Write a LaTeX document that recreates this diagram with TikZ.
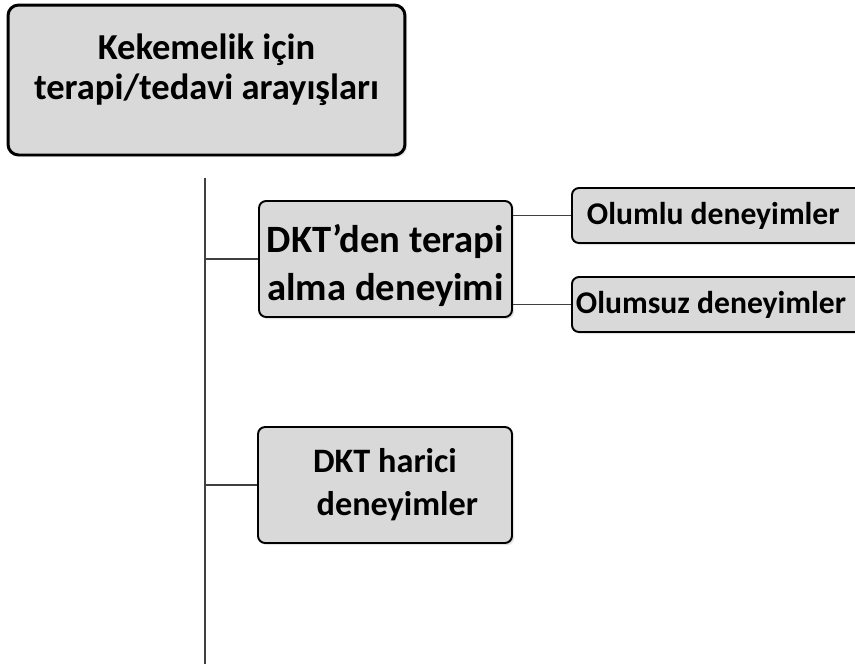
\documentclass[tikz,border=0pt]{standalone}
\usepackage{fontspec}
\setmainfont{Carlito}
\usetikzlibrary{shadows,calc}
\definecolor{boxgray}{RGB}{217,217,217}
\definecolor{linegray}{RGB}{64,64,64}

\begin{document}
\begin{tikzpicture}[x=0.02cm, y=-0.02cm,
  box/.style={draw=black, line width=1.1pt, rounded corners=4pt,
    fill=boxgray, align=center, inner sep=0pt,
    drop shadow={shadow xshift=1.2pt, shadow yshift=-1.2pt, fill=black!22}},
  leaf/.style={box, anchor=west, minimum width=6cm, text width=6cm,
    align=flush left, minimum height=1.1cm,
    font=\bfseries\fontsize{18pt}{21pt}\selectfont},
  link/.style={draw=linegray, line width=1pt}]

\useasboundingbox (0,0) rectangle (855,664);

% ----------------------
% Main theme box
% ----------------------
\node[
  box, line width=1.7pt, rounded corners=6pt,
  minimum width=7.94cm,
  minimum height=3cm,
  font=\bfseries\fontsize{20.8pt}{22.8pt}\selectfont
] (theme) at (206.5,80)
{Kekemelik için\\
terapi/tedavi arayışları\\[-14pt]\strut};

% ----------------------
% Trunk line
% ----------------------
\coordinate (trunktop) at (205,178);
\coordinate (trunkbottom) at (205,664);
\draw[link] (trunktop) -- (trunkbottom);

% ----------------------
% Sub-theme boxes
% ----------------------
\node[
  box,
  minimum width=5.06cm,
  minimum height=2.32cm,
  font=\bfseries\fontsize{22pt}{27.3pt}\selectfont
] (dkt) at (385.5,259)
{\rule{0pt}{23pt}DKT’den terapi\\
alma deneyimi};

\node[
  box,
  minimum width=5.08cm,
  minimum height=2.32cm,
  font=\bfseries\fontsize{19.5pt}{24.5pt}\selectfont
] (harici) at (385,485)
{DKT harici\\
\hspace*{14pt}deneyimler};

% ----------------------
% Codes (cut at the right edge)
% ----------------------
\node[leaf, inner xsep=0.3cm] (olumlu) at (571,215.5)
{Olumlu deneyimler};

\node[leaf, inner xsep=0.08cm] (olumsuz) at (571,304.5)
{Olumsuz deneyimler};

% ----------------------
% Connectors
% ----------------------
\draw[link] (trunktop |- dkt.west) -- (dkt.west);
\draw[link] (trunktop |- harici.west) -- (harici.west);
\draw[link] (dkt.east |- olumlu.west) -- (olumlu.west);
\draw[link] (dkt.east |- olumsuz.west) -- (olumsuz.west);

\end{tikzpicture}
\end{document}
